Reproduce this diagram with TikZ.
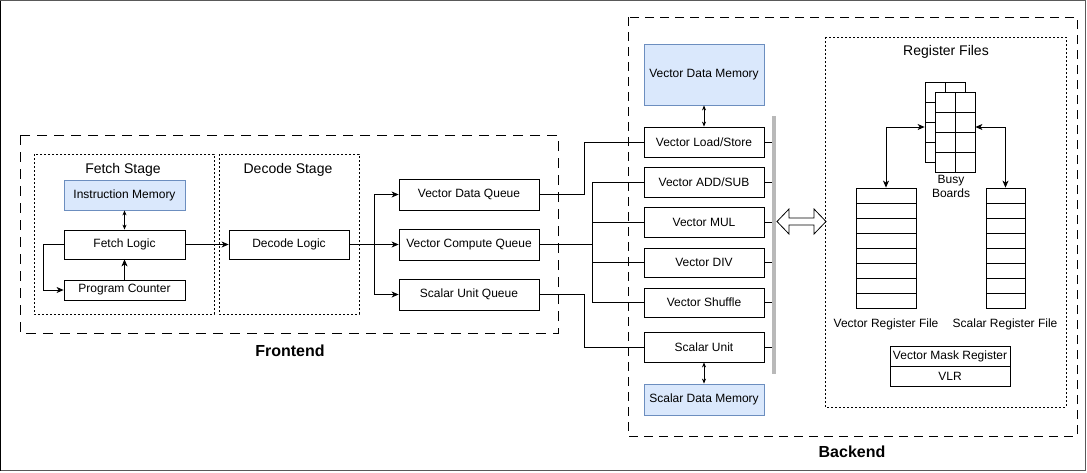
\documentclass[tikz,border=0pt]{standalone}
\usepackage{fontspec}
\setmainfont{Liberation Sans}
\usetikzlibrary{arrows.meta,calc}
\definecolor{memfill}{HTML}{DAE8FC}
\definecolor{memdraw}{HTML}{6C8EBF}
\begin{document}
\begin{tikzpicture}[x=1pt,y=-1pt,
  box/.style={draw,line width=0.8pt,inner sep=0pt,font=\fontsize{12}{14}\selectfont,fill=white},
  mem/.style={box,fill=memfill,draw=memdraw},
  lbl/.style={inner sep=0pt,font=\fontsize{14}{16}\selectfont},
  big/.style={inner sep=0pt,font=\fontsize{16}{18}\selectfont\bfseries},
  small/.style={inner sep=0pt,font=\fontsize{12}{14}\selectfont,align=center},
  conn/.style={line width=0.8pt},
  arr/.style={conn,-{Stealth[length=7pt,width=6pt,inset=2pt]}},
  darr/.style={conn,{Stealth[length=5pt,width=4pt,inset=1.5pt]}-{Stealth[length=5pt,width=4pt,inset=1.5pt]}},
  barr/.style={conn,{Stealth[length=7pt,width=6pt,inset=2pt]}-{Stealth[length=7pt,width=6pt,inset=2pt]}},
  dashbox/.style={line width=0.8pt,dash pattern=on 10pt off 7pt},
  dotbox/.style={line width=0.8pt,dash pattern=on 2pt off 2pt}]
\useasboundingbox (0,0) rectangle (1087,472);
% outer frame
\draw[gray!70!black,line width=1pt] (0.5,0.5) rectangle (1085.5,470.5);
\draw[black,line width=1pt] (0.5,0.5) -- (0.5,470.5);

% ---------------- Frontend ----------------
\draw[dashbox] (20,135) rectangle (558,333);
\node[big] (fe) at (290,351) {Frontend};
\draw[dotbox] (34,154) rectangle (214,314);
\draw[dotbox] (219,154) rectangle (359,314);
\node[lbl] (fst) at (123,170) {Fetch Stage};
\node[lbl] (dst) at (288,170) {Decode Stage};

\node[mem,minimum width=121pt,minimum height=30pt] (im) at (124.5,195) {Instruction Memory};
\node[box,minimum width=121pt,minimum height=29pt] (fl) at (124.5,244.5) {Fetch Logic};
\node[box,minimum width=121pt,minimum height=20pt] (pc) at (124.5,290) {Program Counter};
\node[box,minimum width=120pt,minimum height=29pt] (dl) at (289,244.5) {Decode Logic};

\draw[darr] (im.south) -- (fl.north);
\draw[arr] (pc.north) -- (fl.south);
\draw[arr] (fl.west) -- ++(-20,0) |- (pc.west);
\draw[arr] (fl.east) -- (dl.west);

\node[box,minimum width=140pt,minimum height=31pt] (vdq) at (469,194.5) {Vector Data Queue};
\node[box,minimum width=140pt,minimum height=31pt] (vcq) at (469,244.5) {Vector Compute Queue};
\node[box,minimum width=140pt,minimum height=31pt] (suq) at (469,294.5) {Scalar Unit Queue};

\coordinate (split) at (374,244.5);
\draw[conn,line width=1.6pt] (dl.east) -- (split);
\draw[arr] (split) |- (vdq.west);
\draw[arr] (split) -- (vcq.west);
\draw[arr] (split) |- (suq.west);

% ---------------- Backend ----------------
\draw[dashbox,dash pattern=on 9pt off 6pt] (628,17) rectangle (1077,436);
\node[big] (be) at (852,452) {Backend};

\node[mem,minimum width=120pt,minimum height=61pt] (vdm) at (704,74.5) {Vector Data Memory};
\node[box,minimum width=120pt,minimum height=30pt] (vls) at (704,142) {Vector Load/Store};
\node[box,minimum width=120pt,minimum height=30pt] (vadd) at (704,182) {Vector ADD/SUB};
\node[box,minimum width=120pt,minimum height=30pt] (vmul) at (704,222) {Vector MUL};
\node[box,minimum width=120pt,minimum height=29pt] (vdiv) at (704,262.5) {Vector DIV};
\node[box,minimum width=120pt,minimum height=29pt] (vsh) at (704,302.5) {Vector Shuffle};
\node[box,minimum width=120pt,minimum height=30pt] (su) at (704,347) {Scalar Unit};
\node[mem,minimum width=120pt,minimum height=31pt] (sdm) at (704,399.5) {Scalar Data Memory};

\draw[darr] (vdm.south) -- (vls.north);
\draw[darr] (su.south) -- (sdm.north);

% queue to unit connections
\draw[conn] (vdq.east) -- ++(45,0) |- (vls.west);
\draw[conn] (suq.east) -- ++(45,0) |- (su.west);
\coordinate (cbus) at (592,244.5);
\draw[conn,line width=1.6pt] (vcq.east) -- (cbus);
\draw[conn] (cbus |- vadd.west) -- (cbus |- vsh.west);
\foreach \u in {vadd,vmul,vdiv,vsh} \draw[conn] (cbus |- \u.west) -- (\u.west);

% bar
\coordinate (bartop) at (774,116);
\coordinate (barbot) at (774,374);
\foreach \u in {vls,vadd,vmul,vdiv,vsh,su} \draw[conn] (\u.east) -- (\u.east -| bartop);
\draw[line width=3.5pt,gray!55] (bartop) -- (barbot);

% fat double arrow
\draw[line width=0.8pt,fill=white] (777,221.5) -- (789,209) -- (789,218) -- (814,218) -- (814,209) -- (826,221.5) -- (814,234) -- (814,225) -- (789,225) -- (789,234) -- cycle;

% ---------------- Register files ----------------
\draw[dotbox] (825,37) rectangle (1066,407);
\node[lbl] (rft) at (946,52) {Register Files};

% busy boards
\node[draw,line width=0.8pt,minimum width=40pt,minimum height=80pt,inner sep=0pt] (bbb) at (945,122) {};
\draw[line width=0.8pt] (945,82) -- (945,162);
\foreach \y in {102,122,142} \draw[line width=0.8pt] (925,\y) -- (965,\y);
\node[draw,line width=0.8pt,fill=white,minimum width=40pt,minimum height=80pt,inner sep=0pt] (bbf) at (955,132) {};
\draw[line width=0.8pt] (955,92) -- (955,172);
\foreach \y in {112,132,152} \draw[line width=0.8pt] (935,\y) -- (975,\y);
\node[small] (bbl) at (951,186) {Busy\\Boards};

% register files
\node[draw,line width=0.8pt,minimum width=60pt,minimum height=120pt,inner sep=0pt] (vrf) at (886,248) {};
\foreach \y in {203,218,233,248,263,278,293} \draw[line width=0.8pt] (856,\y) -- (916,\y);
\node[draw,line width=0.8pt,minimum width=39pt,minimum height=120pt,inner sep=0pt] (srf) at (1005.5,248) {};
\foreach \y in {203,218,233,248,263,278,293} \draw[line width=0.8pt] (986,\y) -- (1025,\y);
\node[small] (vrfl) at (886,324) {Vector Register File};
\node[small] (srfl) at (1005,324) {Scalar Register File};

\draw[barr] (vrf.north) |- ($(bbb.west)+(0,5)$);
\draw[barr] (srf.north) |- ($(bbf.east)+(0,-5)$);

\node[box,minimum width=120pt,minimum height=20pt] (vmr) at (950,356) {Vector Mask Register};
\node[box,minimum width=120pt,minimum height=20pt] (vlr) at (950,376) {VLR};
\end{tikzpicture}
\end{document}
